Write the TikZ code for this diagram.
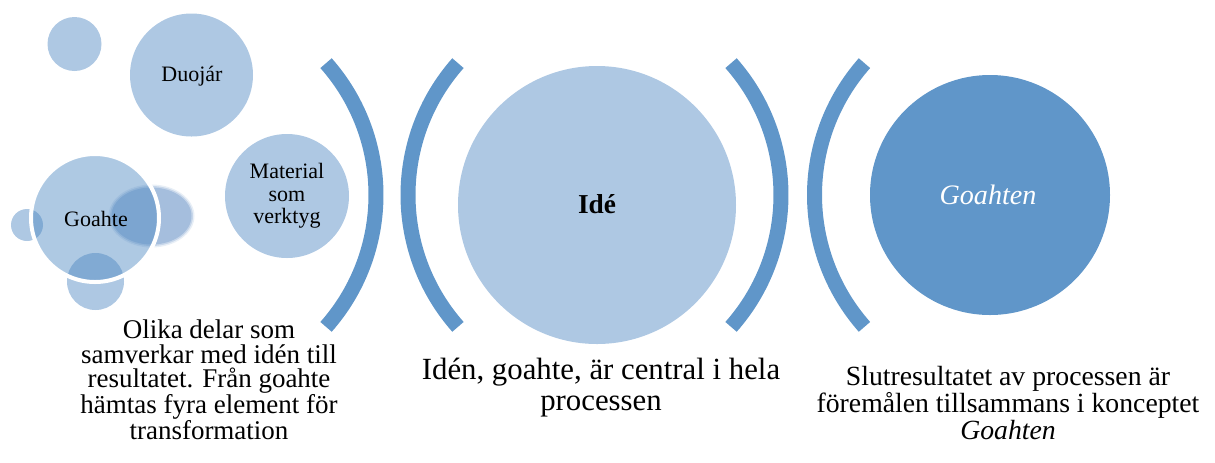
\documentclass[tikz,border=0pt]{standalone}
\usepackage{fontspec}
\setmainfont{Liberation Serif}
\definecolor{lightblue}{RGB}{174,200,227}
\definecolor{darkblue}{RGB}{96,150,201}
\definecolor{mixblue}{RGB}{75,135,193}
\definecolor{ovalblue}{RGB}{165,190,221}
\tikzset{
  bracket/.style={draw=darkblue, line width=11.25pt, line cap=butt},
  nodetext/.style={font=\fontsize{16.5}{16.9}\selectfont},
  captiontext/.style={align=center, inner sep=0pt, text=black}
}
\begin{document}
\begin{tikzpicture}[x=0.75pt, y=-0.75pt]
\useasboundingbox (0,0) rectangle (1215,462);

% left group of bubbles
\fill[lightblue] (74.5,44) circle[radius=27];
\fill[lightblue] (191.5,75) circle[radius=61.5];
\node[nodetext] (duojar) at (192,76) {Duojár};
\fill[lightblue] (287,196) circle[radius=62];
\node[nodetext, align=center] (material) at (287,196) {Material\\som\\verktyg};

% small satellites around Goahte
\fill[lightblue] (27,225) circle[radius=16];
\fill[lightblue] (95.5,281.5) circle[radius=28.5];
% soft-edged oval
\foreach \d/\o in {3/0.25,1.5/0.5} {
  \fill[ovalblue, opacity=\o] (151.5,216) ellipse[x radius=40+\d, y radius=28.5+\d];
}
\fill[ovalblue] (151.5,216) ellipse[x radius=40, y radius=28.5];
% Goahte bubble drawn translucent on top
\draw[white, line width=3pt, fill=mixblue, fill opacity=0.45] (95,218) circle[radius=64];
\node[nodetext] (goahte) at (96,219) {Goahte};

% brackets
\coordinate (c1) at (177,195);
\coordinate (c2) at (607,195);
\coordinate (c3) at (582,195);
\coordinate (c4) at (1013.5,195);
\draw[bracket] (c1) ++(-41.5:199) arc[start angle=-41.5, end angle=41.5, radius=199];
\draw[bracket] (c2) ++(221.5:199) arc[start angle=221.5, end angle=138.5, radius=199];
\draw[bracket] (c3) ++(-41.5:199) arc[start angle=-41.5, end angle=41.5, radius=199];
\draw[bracket] (c4) ++(221.5:199) arc[start angle=221.5, end angle=138.5, radius=199];

% central idea
\fill[lightblue] (597,205) circle[radius=139];
\node[font=\fontsize{20.5}{22}\selectfont\bfseries] (ide) at (597,204) {Idé};

% result
\fill[darkblue] (990,195) circle[radius=120];
\node[font=\fontsize{21.1}{22}\selectfont\itshape, text=white] (goahten) at (988,195) {Goahten};

% captions
\node[captiontext, font=\fontsize{20.25}{18.4}\selectfont] (capleft) at (209,380)
  {Olika delar som\\samverkar med idén till\\resultatet. Från goahte\\hämtas fyra element för\\transformation};
\node[captiontext, font=\fontsize{23.1}{23.2}\selectfont] (capmid) at (601,387.5)
  {Idén, goahte, är central i hela\\processen};
\node[captiontext, font=\fontsize{20.8}{18.75}\selectfont] (capright) at (1008,403)
  {Slutresultatet av processen är\\föremålen tillsammans i konceptet\\\textit{Goahten}};
\end{tikzpicture}
\end{document}
